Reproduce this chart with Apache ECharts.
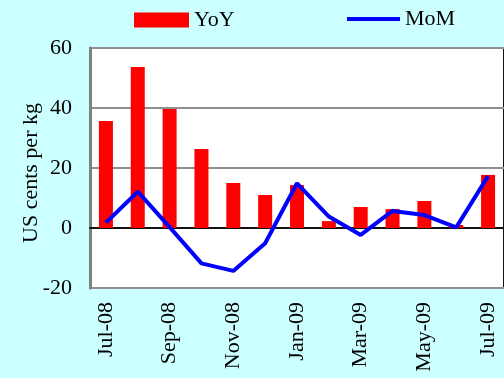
<!DOCTYPE html>
<html>
<head>
<meta charset="utf-8">
<script src="https://cdn.jsdelivr.net/npm/echarts@6/dist/echarts.min.js"></script>
<style>
  html, body { margin: 0; padding: 0; background: #ccffff; }
  #chart { width: 504px; height: 378px; }
</style>
</head>
<body>
<div id="chart"></div>
<script>
// monthly data, Jul-08 .. Jul-09
const months = ["Jul-08", "Aug-08", "Sep-08", "Oct-08", "Nov-08", "Dec-08", "Jan-09",
  "Feb-09", "Mar-09", "Apr-09", "May-09", "Jun-09", "Jul-09"];
const yoy = [35.7, 53.7, 39.7, 26.3, 15, 11, 14.3, 2.3, 7, 6.3, 9, 1, 17.7];
const mom = [1.8, 12.1, 0.3, -11.8, -14.3, -5.1, 14.9, 3.8, -2.3, 5.7, 4.3, 0.2, 17.3];
const yTicks = { min: -20, max: 60, step: 20 };

const font = "Liberation Serif";
const fs = 22;
const chart = echarts.init(document.getElementById("chart"));

chart.setOption({
  backgroundColor: "#ccffff",
  textStyle: { fontFamily: font, color: "#000" },
  legend: [
    {
      data: [{ name: "YoY", icon: "rect" }],
      left: 134, top: 9, padding: 0,
      itemWidth: 55, itemHeight: 15,
      textStyle: { fontFamily: font, fontSize: fs, color: "#000" }
    },
    {
      data: [{ name: "MoM", icon: "rect" }],
      left: 347, top: 8, padding: 0,
      itemWidth: 53, itemHeight: 4,
      textStyle: { fontFamily: font, fontSize: fs, color: "#000" }
    }
  ],
  grid: {
    left: 90, top: 48, width: 423, height: 240,
    show: true, backgroundColor: "#fff",
    borderColor: "#111", borderWidth: 2
  },
  xAxis: {
    type: "category",
    data: months,
    boundaryGap: true,
    axisLine: { show: true, lineStyle: { color: "#111", width: 2 } },
    axisTick: { show: false },
    axisLabel: {
      interval: 1, rotate: 90, margin: 14,
      fontFamily: font, fontSize: fs, color: "#000"
    }
  },
  yAxis: {
    type: "value",
    min: yTicks.min, max: yTicks.max, interval: yTicks.step,
    name: "US cents per kg",
    nameLocation: "middle",
    nameGap: 48,
    nameMoveOverlap: false,
    nameTextStyle: { fontFamily: font, fontSize: fs, color: "#000", padding: [0, 10, 0, 0] },
    axisLine: { show: true, lineStyle: { color: "#808080", width: 3 } },
    axisTick: { show: false },
    axisLabel: { margin: 18, fontFamily: font, fontSize: fs, color: "#000" },
    splitLine: { show: true, lineStyle: { color: "#8f8f8f", width: 2 } }
  },
  series: [
    {
      name: "YoY",
      type: "bar",
      data: yoy,
      barWidth: 14,
      itemStyle: { color: "#ff0000" }
    },
    {
      name: "MoM",
      type: "line",
      data: mom,
      symbol: "none",
      z: 5,
      itemStyle: { color: "#0000ff" },
      lineStyle: { color: "#0000ff", width: 4 }
    }
  ]
});
</script>
</body>
</html>
